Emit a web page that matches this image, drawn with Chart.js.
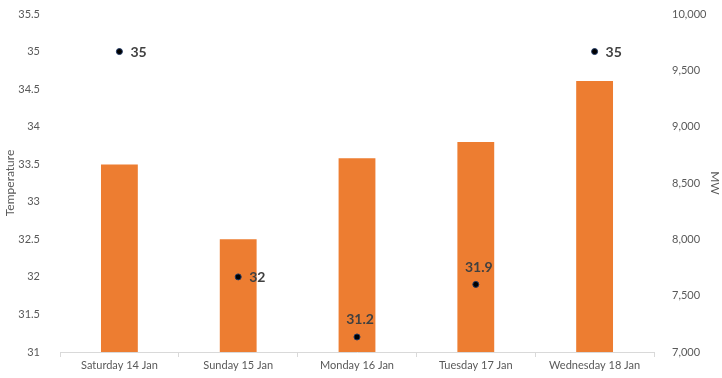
<!DOCTYPE html>
<html>
<head>
<meta charset="utf-8">
<script src="https://cdn.jsdelivr.net/npm/chart.js@4"></script>
<style>
  html, body { margin: 0; padding: 0; background: #fff; }
  #wrap { width: 722px; height: 378px; }
</style>
</head>
<body>
<div id="wrap"><canvas id="chart" width="722" height="378"></canvas></div>
<script>
    // Chart data
    const days = ['Saturday 14 Jan', 'Sunday 15 Jan', 'Monday 16 Jan', 'Tuesday 17 Jan', 'Wednesday 18 Jan'];
    const demandMW = [8665, 8000, 8720, 8865, 9405];
    const temperature = [35, 32, 31.2, 31.9, 35];

    const axisGrey = '#595959';
    const labelFont = 'Lato, "Open Sans", sans-serif';

    // Where each temperature label sits relative to its point
    const labelSide = ['right', 'right', 'top', 'top', 'right'];

    const pointLabels = {
        id: 'pointLabels',
        afterDatasetsDraw(chart) {
            const meta = chart.getDatasetMeta(1);
            const ctx = chart.ctx;
            ctx.save();
            ctx.font = 'bold 14px ' + labelFont;
            ctx.fillStyle = '#404040';
            meta.data.forEach((pt, i) => {
                const text = String(temperature[i]);
                if (labelSide[i] === 'right') {
                    ctx.textAlign = 'left';
                    ctx.textBaseline = 'middle';
                    ctx.fillText(text, pt.x + 11, pt.y + 1);
                } else {
                    ctx.textAlign = 'center';
                    ctx.textBaseline = 'middle';
                    ctx.fillText(text, pt.x + 3, pt.y - 17);
                }
            });
            ctx.restore();
        }
    };

    // keep the plot area top fixed, whatever the tick labels ask for
    function fixVertical(width) {
        return function(axis) {
            axis.width = width;
            axis.paddingTop = 0;
            axis.paddingBottom = 0;
        };
    }

    new Chart(document.getElementById('chart'), {
        data: {
            labels: days,
            datasets: [
                {
                    type: 'bar',
                    label: 'MW',
                    data: demandMW,
                    yAxisID: 'yMW',
                    backgroundColor: '#ED7D31',
                    barPercentage: 0.31,
                    categoryPercentage: 1,
                    order: 2
                },
                {
                    type: 'line',
                    label: 'Temperature',
                    data: temperature,
                    yAxisID: 'yTemp',
                    showLine: false,
                    pointRadius: 3,
                    pointBackgroundColor: '#000000',
                    pointBorderColor: '#1F3864',
                    pointBorderWidth: 1,
                    order: 1
                }
            ]
        },
        options: {
            responsive: false,
            animation: false,
            layout: { padding: { top: 14, left: 3, right: 0, bottom: 0 } },
            plugins: {
                legend: { display: false },
                tooltip: { enabled: false }
            },
            scales: {
                x: {
                    grid: {
                        display: true,
                        drawOnChartArea: false,
                        offset: true,
                        tickLength: 5,
                        color: '#d9d9d9'
                    },
                    border: { color: '#d9d9d9' },
                    ticks: {
                        color: axisGrey,
                        font: { family: labelFont, size: 11 },
                        padding: 2,
                        maxRotation: 0
                    },
                    afterFit(axis) { axis.height = 26; }
                },
                yTemp: {
                    position: 'left',
                    min: 31,
                    max: 35.5,
                    ticks: {
                        stepSize: 0.5,
                        color: axisGrey,
                        font: { family: labelFont, size: 11 },
                        padding: 12,
                        callback: v => String(v)
                    },
                    grid: { display: false },
                    border: { display: false },
                    title: {
                        display: true,
                        text: 'Temperature',
                        color: axisGrey,
                        font: { family: labelFont, size: 12 },
                        padding: 0
                    },
                    afterFit: fixVertical(57)
                },
                yMW: {
                    position: 'right',
                    min: 7000,
                    max: 10000,
                    ticks: {
                        stepSize: 500,
                        color: axisGrey,
                        font: { family: labelFont, size: 11 },
                        padding: 10,
                        callback: v => v.toLocaleString('en-US')
                    },
                    grid: { display: false },
                    border: { display: false },
                    title: {
                        display: true,
                        text: 'MW',
                        color: axisGrey,
                        font: { family: labelFont, size: 12 },
                        padding: { top: 0, bottom: 3 }
                    },
                    afterFit: fixVertical(68)
                }
            }
        },
        plugins: [pointLabels]
    });
</script>
</body>
</html>
